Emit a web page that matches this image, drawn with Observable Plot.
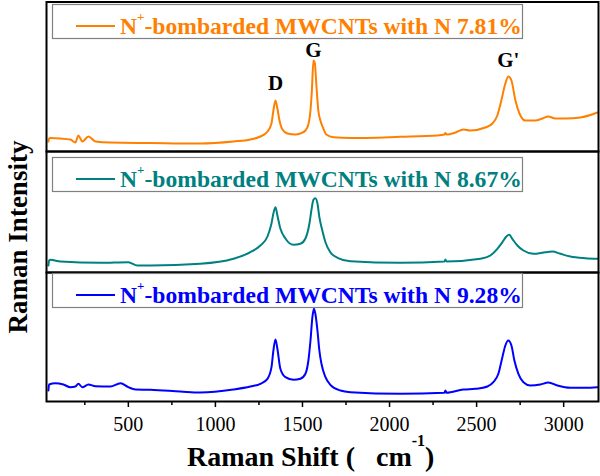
<!DOCTYPE html>
<html><head><meta charset="utf-8">
<script src="https://cdn.jsdelivr.net/npm/d3@7"></script>
<script src="https://cdn.jsdelivr.net/npm/@observablehq/plot@0.6"></script>
<style>
body{margin:0;background:#fff;}
#chart{position:relative;width:600px;height:476px;overflow:hidden;background:#fff;font-family:"Liberation Serif","DejaVu Serif",serif;}
#chart svg{position:absolute;left:0;}
#chart text{font-family:"Liberation Serif","DejaVu Serif",serif;}
</style></head><body><div id="chart"></div>
<script>
// ---- data (intensity in arbitrary units) ----
const nitrogenContent = ["7.81%", "8.67%", "9.28%"];
const seriesColors = ["#FF8000", "#008080", "#0000FF"];

const shift1 = [41,45,53,110,167,196,213,236,271,311,397,627,914,1103,1201,1258,1299,1322,1333,1345,1356,1368,1385,1413,1459,1488,1517,1534,1546,1554,1563,1571,1580,1591,1603,1620,1637,1678,1775,2062,2275,2315,2321,2327,2378,2424,2464,2550,2591,2619,2642,2665,2682,2700,2723,2746,2780,2837,2878,2912,2952,3010,3096,3193];
const int1   = [10,13,13.5,13,12,9,16,10,15,10,9,8.5,8,10,12,15,20,28,41,51,43,31,22,18,17,18,21,27,41,61,91,88,66,41,31,23,17,14.3,13.5,14.7,16,17,18.5,17,19,22,21,24,28,36,51,68,75,71,51,38,31,31,33,35,33,33,34,39];

const shift2 = [41,45,53,110,340,500,552,627,914,1103,1201,1258,1299,1322,1333,1345,1356,1373,1402,1448,1488,1517,1540,1551,1563,1574,1586,1597,1614,1632,1660,1701,1775,2062,2315,2321,2327,2522,2579,2619,2648,2671,2688,2705,2734,2769,2826,2895,2935,2981,3038,3125,3193];
const int2   = [7,12,12.7,11,9.7,10.3,7,7,8.7,13.7,20.3,27,36,49,59,65.3,57,44,34,27.7,28.7,34,49,62,72.7,74.3,69,55.3,42,30.3,20.3,14.7,11.3,9.7,11,13,11,13.7,17,23.7,30.3,36,37.7,33.7,27,22,18.7,20.3,21,18.7,16,14.3,13.7];

const shift3 = [41,45,81,127,167,196,213,236,271,311,397,455,500,541,627,799,914,1103,1201,1258,1299,1322,1333,1345,1356,1373,1402,1448,1488,1517,1534,1546,1557,1566,1574,1586,1597,1609,1632,1660,1718,1775,2062,2315,2321,2327,2424,2493,2562,2596,2625,2648,2665,2682,2700,2717,2740,2769,2809,2866,2912,2964,3038,3125,3193];
const int3   = [11,17,18.3,17,14.3,15,17.7,14.3,17,15.3,15,18.3,14.3,12,11.7,10,9,12,15,17.7,22.7,34.3,51,62,52.7,32.7,24.3,21.7,22.7,27.7,41,61,84.3,92.7,87.7,71,51,37.7,24.3,16.7,11,9.3,7.7,8.7,11,8.7,12,12.7,15,19.3,27.7,44.3,56,61,56,41,27.7,19.3,16,17,19,16,13.7,13.7,14.3];

const peakNames  = ["D", "G", "G'"];
const peakShift  = [1345, 1563, 2682];
const peakLabelY = [68.5, 101.5, 91];

const majorTicks = [500, 1000, 1500, 2000, 2500, 3000];
const minorTicks = [250, 750, 1250, 1750, 2250, 2750];
const xDomain = [30, 3200];

// ---- layout ----
const serif = "Liberation Serif, DejaVu Serif, serif";
const panels = [
  {shift: shift1, inten: int1, top: 0,   height: 152, mt: 1.5, mb: 1,  ymax: 149.5, peaks: true},
  {shift: shift2, inten: int2, top: 151, height: 121, mt: 0,   mb: 0,  ymax: 121},
  {shift: shift3, inten: int3, top: 272, height: 204, mt: 0,   mb: 75, ymax: 129, axis: true}
];
const legendTop = [4, 157, 273];

const chart = document.getElementById("chart");

panels.forEach((p, i) => {
  const marks = [
    Plot.line(p.inten, {x: p.shift, y: p.inten, stroke: seriesColors[i], strokeWidth: 2, curve: "monotone-x", clip: true})
  ];
  if (p.peaks) {
    marks.push(Plot.text(peakNames, {x: peakShift, y: peakLabelY, text: d => d, fontSize: 21, fontWeight: "bold", fill: "black", lineAnchor: "middle"}));
  }
  if (p.axis) {
    marks.push(Plot.axisX({ticks: majorTicks, tickSize: 6, tickPadding: 9, fontSize: 20, label: null, strokeWidth: 1.5, tickFormat: d => String(d)}));
    marks.push(Plot.axisX({ticks: minorTicks, tickSize: 4, label: null, strokeWidth: 1.5, tickFormat: () => ""}));
  }
  marks.push(Plot.frame({stroke: "black", strokeWidth: 2}));
  const svg = Plot.plot({
    width: 600, height: p.height,
    marginLeft: 46, marginRight: 2, marginTop: p.mt, marginBottom: p.mb,
    x: p.axis ? {domain: xDomain} : {domain: xDomain, axis: null},
    y: {domain: [0, p.ymax], axis: null},
    style: {background: "transparent", overflow: "visible", fontFamily: serif, color: "black"},
    marks
  });
  svg.style.top = p.top + "px";
  chart.appendChild(svg);
});

// ---- overlay: legends and axis titles ----
const ov = d3.select(chart).append("svg")
  .attr("width", 600).attr("height", 476)
  .style("top", "0px").style("overflow", "visible")
  .attr("font-family", serif);

nitrogenContent.forEach((n, i) => {
  const t = legendTop[i];
  const g = ov.append("g");
  g.append("rect").attr("x", 52.5).attr("y", t + 0.5).attr("width", 470).attr("height", 34)
    .attr("fill", "white").attr("stroke", "#808080").attr("stroke-width", 1.2);
  g.append("line").attr("x1", 76).attr("x2", 115).attr("y1", t + 22).attr("y2", t + 22)
    .attr("stroke", seriesColors[i]).attr("stroke-width", 2);
  const tx = g.append("text").attr("x", 120).attr("y", t + 29.5).attr("font-family", serif)
    .attr("font-size", 23.6).attr("font-weight", "bold").attr("fill", seriesColors[i]);
  tx.append("tspan").text("N");
  tx.append("tspan").attr("font-size", 13).attr("dy", -13).text("+");
  tx.append("tspan").attr("dy", 13).text("-bombarded MWCNTs with N " + n);
});

// y title
ov.append("text").attr("transform", "translate(27,237) rotate(-90)").attr("font-family", serif)
  .attr("text-anchor", "middle").attr("font-size", 27).attr("font-weight", "bold")
  .attr("fill", "black").text("Raman Intensity");

// x title
const xt = ov.append("text").attr("x", 187).attr("y", 466).attr("font-family", serif)
  .attr("font-size", 28).attr("font-weight", "bold").attr("fill", "black");
xt.append("tspan").text("Raman Shift (\u00a0\u00a0\u00a0cm");
xt.append("tspan").attr("font-size", 16).attr("dy", -20).text("-1");
xt.append("tspan").attr("dy", 20).text(")");
</script></body></html>
